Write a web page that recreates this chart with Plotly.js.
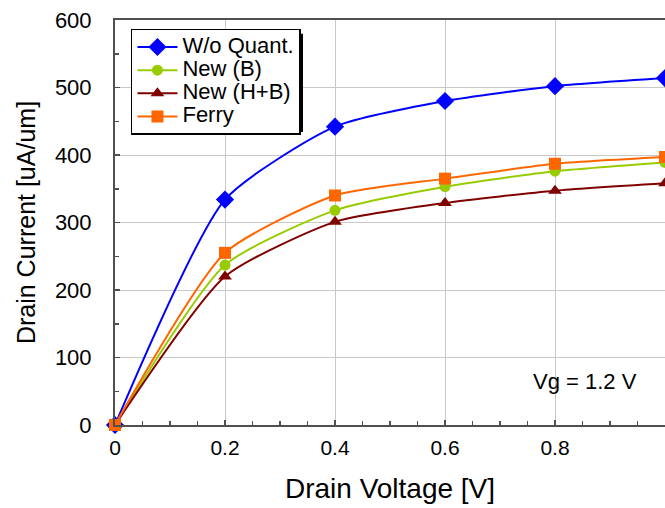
<!DOCTYPE html>
<html>
<head>
<meta charset="utf-8">
<script src="https://cdn.plot.ly/plotly-3.0.1.min.js"></script>
<style>html,body{margin:0;padding:0;background:#fff;}#chart{width:665px;height:508px;}</style>
</head>
<body>
<div id="chart"></div>
<script>
// Drain voltage [V]
var drainVoltage = [0, 0.2, 0.4, 0.6, 0.8, 1.0];
// Drain current [uA/um]
var woQuant = [0, 334, 442, 480, 502, 514];
var newB    = [0, 237, 318, 353, 376, 389];
var newHB   = [0, 220, 301, 329, 347, 358];
var ferry   = [0, 255, 340, 365, 387, 397];

var seriesNames  = ["W/o Quant.", "New (B)", "New (H+B)", "Ferry"];
var seriesValues = [woQuant, newB, newHB, ferry];
var seriesColors = ["#0000FF", "#99CC00", "#800000", "#FF6600"];
var seriesSymbols = ["diamond", "circle", "triangle-up", "square"];
var seriesSizes = [14, 11, 12, 12];

var FONT = "Liberation Sans, Arial, sans-serif";

var traces = seriesNames.map(function (nm, i) {
  return {
    x: drainVoltage,
    y: seriesValues[i],
    name: '<span style="font-size:22px">' + nm + '</span>',
    type: "scatter",
    mode: "lines+markers",
    cliponaxis: false,
    line: {color: seriesColors[i], width: 2, shape: "spline", smoothing: 0.6},
    marker: {color: seriesColors[i], symbol: seriesSymbols[i], size: seriesSizes[i]}
  };
});

var layout = {
  width: 665, height: 508,
  margin: {l: 115, r: 0, t: 20, b: 83, pad: 0},
  paper_bgcolor: "#fff", plot_bgcolor: "#fff",
  font: {family: FONT, color: "#000"},
  showlegend: true,
  xaxis: {
    range: [0, 1], dtick: 0.2, tick0: 0,
    showgrid: true, gridcolor: "#C8C8C8", gridwidth: 1,
    zeroline: false,
    showline: true, linecolor: "#505050", linewidth: 2, mirror: true,
    ticks: "inside", ticklen: 5, tickcolor: "#505050", tickwidth: 1.5,
    minor: {dtick: 0.05, ticks: "inside", ticklen: 4, tickcolor: "#505050", tickwidth: 1.5, showgrid: false},
    tickfont: {size: 21, family: FONT, color: "#000"},
    ticklabelstandoff: 3,
    title: {text: "Drain Voltage [V]", font: {size: 28, family: FONT, color: "#000"}, standoff: 20},
    automargin: false, fixedrange: true
  },
  yaxis: {
    range: [0, 600], dtick: 100, tick0: 0,
    showgrid: true, gridcolor: "#C8C8C8", gridwidth: 1,
    zeroline: false,
    showline: true, linecolor: "#505050", linewidth: 2, mirror: false,
    ticks: "inside", ticklen: 5, tickcolor: "#505050", tickwidth: 1.5,
    minor: {dtick: 50, ticks: "inside", ticklen: 4, tickcolor: "#505050", tickwidth: 1.5, showgrid: false},
    tickfont: {size: 22, family: FONT, color: "#000"},
    ticklabelstandoff: 17,
    title: {text: "Drain Current [uA/um]", font: {size: 25, family: FONT, color: "#000"}, standoff: 12},
    automargin: false, fixedrange: true
  },
  legend: {
    x: 0.029, y: 0.978, xanchor: "left", yanchor: "top",
    bgcolor: "#fff", bordercolor: "#000", borderwidth: 1.5,
    font: {size: 15.5, family: FONT, color: "#000"},
    itemwidth: 40, tracegroupgap: 0
  },
  shapes: [{
    type: "rect", xref: "paper", yref: "paper", layer: "above",
    x0: 0.0364, x1: 0.3418, y0: 0.7235, y1: 0.966,
    fillcolor: "#000", line: {width: 0}
  }],
  annotations: [{
    x: 0.855, y: 65, xref: "x", yref: "y",
    text: "Vg = 1.2 V", showarrow: false,
    font: {size: 22, family: FONT, color: "#000"}
  }]
};

Plotly.newPlot("chart", traces, layout, {displayModeBar: false, staticPlot: true});
</script>
</body>
</html>
